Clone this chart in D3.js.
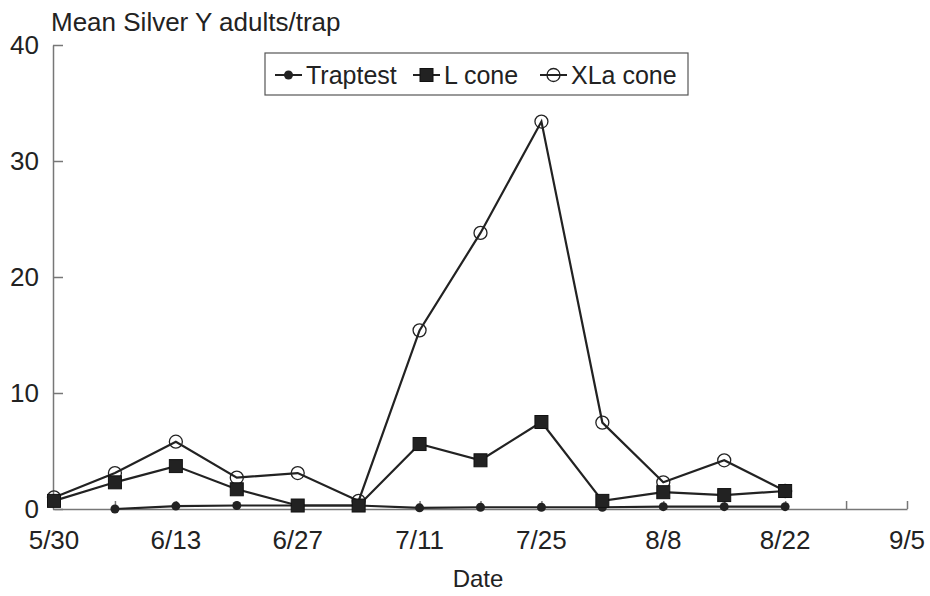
<!DOCTYPE html>
<html>
<head>
<meta charset="utf-8">
<script src="https://cdn.jsdelivr.net/npm/d3@7"></script>
<style>
	body { margin: 0; background: #fff; }
	text { font-family: "Liberation Sans", Arial, sans-serif; fill: #222; }
</style>
</head>
<body>
<div id="chart"></div>
<script>

///////////////////////////////////////////////////////////////////////////
//////////////////////////////// Data /////////////////////////////////////
///////////////////////////////////////////////////////////////////////////

//Weekly sampling dates (as "month/day", year is irrelevant)
var dates = ["5/30","6/6","6/13","6/20","6/27","7/4","7/11","7/18","7/25","8/1","8/8","8/15","8/22"];
var traptest = [null, 0.0, 0.25, 0.3, 0.3, 0.3, 0.1, 0.15, 0.15, 0.15, 0.2, 0.2, 0.2];
var lCone    = [0.7, 2.3, 3.7, 1.7, 0.3, 0.3, 5.6, 4.2, 7.5, 0.7, 1.45, 1.2, 1.55];
var xlaCone  = [1.0, 3.1, 5.8, 2.7, 3.1, 0.7, 15.4, 23.8, 33.4, 7.45, 2.3, 4.2, 1.55];

var xTickLabels = ["5/30","6/13","6/27","7/11","7/25","8/8","8/22","9/5"];
var yTicks = [0, 10, 20, 30, 40];
var seriesNames = ["Traptest", "L cone", "XLa cone"];

///////////////////////////////////////////////////////////////////////////
//////////////////// Set up and initiate svg container ////////////////////
///////////////////////////////////////////////////////////////////////////

var width = 930, height = 596;
var margin = { top: 45, right: 23, bottom: 87, left: 54 };

var svg = d3.select("#chart").append("svg")
	.attr("width", width)
	.attr("height", height);

var parse = function(s) {
	var p = s.split("/");
	return new Date(2001, +p[0] - 1, +p[1]);
};

var x = d3.scaleTime()
	.domain([parse("5/30"), parse("9/5")])
	.range([margin.left, width - margin.right]);

var y = d3.scaleLinear()
	.domain([0, 40])
	.range([height - margin.bottom, margin.top]);

var axisColor = "#777";

///////////////////////////////////////////////////////////////////////////
/////////////////////////////// Axes //////////////////////////////////////
///////////////////////////////////////////////////////////////////////////

//Y axis - ticks pointing inward
var yAxis = svg.append("g")
	.attr("transform", "translate(" + (margin.left - 1) + ",0)")
	.call(d3.axisRight(y).tickValues(yTicks).tickSize(10).tickSizeOuter(0).tickFormat(""));
yAxis.select(".domain").attr("stroke", axisColor).attr("stroke-width", 1.5);
yAxis.selectAll(".tick line").attr("stroke", axisColor).attr("stroke-width", 1.5);

svg.selectAll(".yLabel")
	.data(yTicks)
	.enter().append("text")
	.attr("class", "yLabel")
	.attr("x", 39)
	.attr("y", function(d) { return y(d) + 9; })
	.attr("text-anchor", "end")
	.style("font-size", "26px")
	.text(function(d) { return d; });

//X axis - weekly ticks pointing up, labels every two weeks
var weekly = d3.range(1, 15).map(function(i) { return d3.timeDay.offset(parse("5/30"), 7 * i); });
var xAxis = svg.append("g")
	.attr("transform", "translate(0," + (height - margin.bottom) + ")")
	.call(d3.axisTop(x).tickValues(weekly).tickSize(8).tickSizeOuter(0).tickFormat(""));
xAxis.select(".domain").attr("stroke", axisColor).attr("stroke-width", 1.5);
xAxis.selectAll(".tick line").attr("stroke", axisColor).attr("stroke-width", 1.5);

svg.selectAll(".xLabel")
	.data(xTickLabels)
	.enter().append("text")
	.attr("class", "xLabel")
	.attr("x", function(d) { return x(parse(d)); })
	.attr("y", height - margin.bottom + 40)
	.attr("text-anchor", "middle")
	.style("font-size", "26px")
	.text(function(d) { return d; });

//Axis titles
svg.append("text")
	.attr("x", 51)
	.attr("y", 31)
	.style("font-size", "26px")
	.text("Mean Silver Y adults/trap");

svg.append("text")
	.attr("x", 478)
	.attr("y", 587)
	.attr("text-anchor", "middle")
	.style("font-size", "24px")
	.text("Date");

///////////////////////////////////////////////////////////////////////////
/////////////////////////////// Lines /////////////////////////////////////
///////////////////////////////////////////////////////////////////////////

var toPoints = function(vals) {
	return vals.map(function(v, i) { return { date: parse(dates[i]), value: v }; })
		.filter(function(d) { return d.value !== null; });
};

var line = d3.line()
	.x(function(d) { return x(d.date); })
	.y(function(d) { return y(d.value); });

var series = [toPoints(traptest), toPoints(lCone), toPoints(xlaCone)];

series.forEach(function(pts) {
	svg.append("path")
		.datum(pts)
		.attr("d", line)
		.attr("fill", "none")
		.attr("stroke", "#222")
		.attr("stroke-width", 2.2);
});

//Markers
function drawMarker(g, type, cx, cy) {
	if (type === 0) {
		g.append("circle").attr("cx", cx).attr("cy", cy).attr("r", 4.5).attr("fill", "#222");
	} else if (type === 1) {
		g.append("rect").attr("x", cx - 6.5).attr("y", cy - 6.5).attr("width", 13).attr("height", 13)
			.attr("fill", "#222").attr("stroke", "#111").attr("stroke-width", 1);
	} else {
		g.append("circle").attr("cx", cx).attr("cy", cy).attr("r", 6.5)
			.attr("fill", "none").attr("stroke", "#222").attr("stroke-width", 1.3);
	}
}

var markerG = svg.append("g");
[2, 0, 1].forEach(function(s) {
	series[s].forEach(function(d) {
		drawMarker(markerG, s, x(d.date), y(d.value));
	});
});

///////////////////////////////////////////////////////////////////////////
/////////////////////////////// Legend ////////////////////////////////////
///////////////////////////////////////////////////////////////////////////

var legend = svg.append("g");
legend.append("rect")
	.attr("x", 265).attr("y", 53)
	.attr("width", 423).attr("height", 42)
	.attr("fill", "#fff")
	.attr("stroke", "#555")
	.attr("stroke-width", 1.2);

var legendX = [275, 413, 540];
seriesNames.forEach(function(name, i) {
	var lx = legendX[i];
	legend.append("line")
		.attr("x1", lx).attr("x2", lx + 27)
		.attr("y1", 75).attr("y2", 75)
		.attr("stroke", "#222").attr("stroke-width", 2);
	drawMarker(legend, i, lx + 13.5, 75);
	legend.append("text")
		.attr("x", lx + 31)
		.attr("y", 84)
		.style("font-size", "25px")
		.text(name);
});

</script>
</body>
</html>
